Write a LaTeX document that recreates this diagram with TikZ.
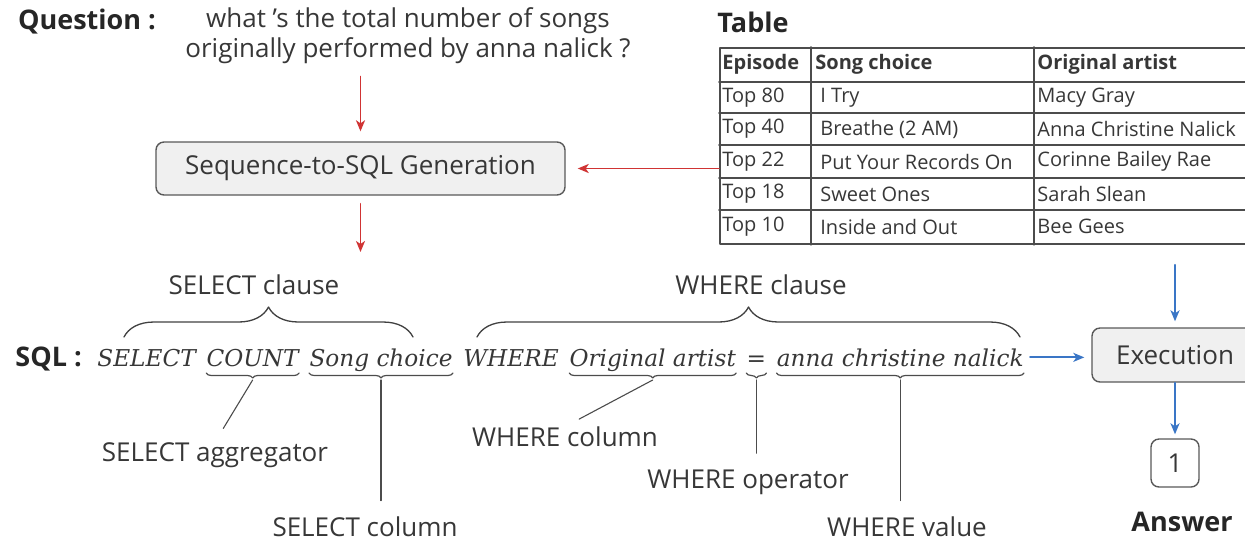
\documentclass[tikz,border=0pt]{standalone}
\usepackage{fontspec}
\setsansfont{Open Sans}
\renewcommand{\familydefault}{\sfdefault}
\newfontfamily\sqlfont{DejaVu Serif}
\usepackage{tikz}
\usetikzlibrary{arrows.meta}
\usetikzlibrary{positioning}
\usetikzlibrary{decorations.pathreplacing}
\definecolor{nuolipun}{RGB}{208,52,52}
\definecolor{nuolisin}{RGB}{58,118,198}
\definecolor{teksti}{RGB}{55,55,55}

\begin{document}
\begin{tikzpicture}[line cap=round,line join=round,>={Stealth[length=5.5pt,width=4.5pt,inset=1.5pt]},x=0.5pt,y=-0.5pt,
  laatikko/.style={draw=black!65,line width=0.7pt,rounded corners=4pt,fill=black!6,text=teksti,font=\fontsize{13}{15}\selectfont},
  punainen/.style={->,color=nuolipun,line width=0.9pt},
  sininen/.style={->,color=nuolisin,line width=0.9pt},
  sqlsana/.style={inner sep=0pt,text=teksti,font=\fontsize{11.6}{14}\sqlfont\itshape},
  selite/.style={inner sep=0pt,text=teksti,font=\fontsize{13}{15}\selectfont},
  otsikko/.style={inner sep=0pt,text=black!85,font=\fontsize{13.5}{15}\bfseries},
  solu/.style={anchor=west,inner sep=0pt,text=teksti,font=\fontsize{10}{12}\selectfont},
  viiva/.style={color=black!70,line width=0.55pt},
  alasulku/.style={decorate,decoration={brace,mirror,amplitude=2.5pt},color=black!70,line width=0.6pt},
  ylasulku/.style={decorate,decoration={brace,amplitude=15pt},color=black!75,line width=0.65pt}]
\useasboundingbox (0,0) rectangle (1245,543);
\clip (0,0) rectangle (1245,543);

%kysymys
\node [otsikko] (qots) at (87,22) {Question :};
\node [selite,align=center] (question) at (408,36) {what 's the total number of songs\\originally performed by anna nalick ?};
\node [laatikko,minimum width=204.5pt,minimum height=26.5pt] (seqsql) at (360.5,168.5) {Sequence-to-SQL Generation};
\coordinate (sqltulo) at (360.5,252);

%taulukko
\node [otsikko] (tots) at (753,22) {Table};
\node [draw=black!70,line width=0.9pt,minimum width=270pt,minimum height=98pt,anchor=north west,inner sep=0pt] (tbl) at (719,47) {};
\foreach \y in {82,113,145,178,210}
{\draw[color=black!70,line width=0.9pt] (tbl.west |- 0,\y) -- (tbl.east |- 0,\y);}
\foreach \x in {811,1034}
{\draw[color=black!70,line width=0.9pt] (\x,0 |- tbl.north) -- (\x,0 |- tbl.south);}
\node [solu,font=\fontsize{10}{12}\bfseries] (hep) at (722,64.5) {Episode};
\node [solu,font=\fontsize{10}{12}\bfseries] (hsong) at (815,64.5) {Song choice};
\node [solu,font=\fontsize{10}{12}\bfseries] (hart) at (1037,64.5) {Original artist};
\foreach \a/\b/\c/\y [count=\i] in {Top 80/I Try/Macy Gray/97.5,Top 40/Breathe (2 AM)/Anna Christine Nalick/129,Top 22/Put Your Records On/Corinne Bailey Rae/161.5,Top 18/Sweet Ones/Sarah Slean/194,Top 10/Inside and Out/Bee Gees/226.5}
{
\node [solu] (ep\i) at (722,\y) {\a};
\node [solu] (song\i) at (820,\y) {\b};
\node [solu] (art\i) at (1037,\y) {\c};
}

%punaiset nuolet
\draw [punainen,shorten <=6pt,shorten >=5pt] (question.south -| seqsql.north) -- (seqsql.north);
\draw [punainen,shorten <=4pt] (seqsql.south) -- (sqltulo);
\draw [punainen,shorten >=6pt] (tbl.west |- seqsql.east) -- (seqsql.east);

%sql-rivi
\node [otsikko,anchor=base west] (sqlots) at (15,366) {SQL :};
\node [sqlsana,anchor=base west] (ssel) at (97,366) {SELECT};
\node [sqlsana,base right=5pt of ssel] (scnt) {COUNT};
\node [sqlsana,base right=5pt of scnt] (ssong) {Song choice};
\node [sqlsana,base right=5pt of ssong] (swhere) {WHERE};
\node [sqlsana,base right=5pt of swhere] (sorig) {Original artist};
\node [sqlsana,base right=5pt of sorig] (seq) {=};
\node [sqlsana,base right=5pt of seq] (sval) {anna christine nalick};

%aaltosulut
\draw [ylasulku] (124,337) -- (413,337);
\draw [ylasulku] (477,337) -- (1020,337);
\node [selite] (selcl) at (254,285) {SELECT clause};
\node [selite] (whcl) at (761,285) {WHERE clause};
\coordinate (ub) at (0,373);
\coordinate (ubk) at (0,380);
\foreach \s in {scnt,ssong,sorig,seq,sval}
{\draw [alasulku] (\s.west |- ub) -- (\s.east |- ub);}

%selitteet
\node [selite] (agg) at (215,455) {SELECT aggregator};
\node [selite] (scol) at (365,527) {SELECT column};
\node [selite] (wcol) at (565,437) {WHERE column};
\node [selite] (wop) at (748,482) {WHERE operator};
\node [selite] (wval) at (907,527) {WHERE value};
\draw [viiva,shorten >=8pt] (scnt.south |- ubk) -- (agg.north);
\draw [viiva,shorten >=8pt] (ssong.south |- ubk) -- (ssong.south |- scol.north);
\draw [viiva,shorten >=8pt] (sorig.south |- ubk) -- (wcol.north);
\draw [viiva,shorten >=8pt] (seq.south |- ubk) -- (seq.south |- wop.north);
\draw [viiva,shorten >=8pt] (sval.south |- ubk) -- (sval.south |- wval.north);

%suoritus
\node [laatikko,minimum width=83pt,minimum height=27pt] (exec) at (1175,355) {Execution};
\node [laatikko,fill=white,minimum width=24pt,minimum height=24pt] (one) at (1175,463) {1};
\node [otsikko] (ans) at (1182,522) {Answer};
\draw [sininen,shorten <=10pt,shorten >=3pt] (tbl.south -| exec.north) -- (exec.north);
\draw [sininen,shorten <=3pt,shorten >=3.5pt] (sval.east) -- (sval.east -| exec.west);
\draw [sininen,shorten >=2pt] (exec.south) -- (one.north);
\end{tikzpicture}
\end{document}
